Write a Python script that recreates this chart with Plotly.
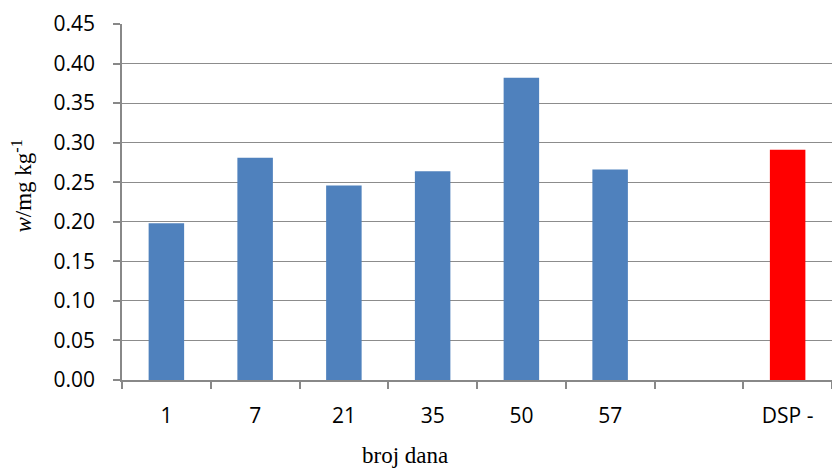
import plotly.graph_objects as go

categories = ["1", "7", "21", "35", "50", "57", " ", "DSP -"]
values = [0.198, 0.281, 0.246, 0.264, 0.382, 0.266, None, 0.291]
colors = ["#4F81BD"] * 7 + ["#FF0000"]
y_ticks = [0.00, 0.05, 0.10, 0.15, 0.20, 0.25, 0.30, 0.35, 0.40, 0.45]
y_tick_labels = [f"{v:.2f}" for v in y_ticks]

sans = "Open Sans, Liberation Sans, sans-serif"
serif = "Liberation Serif, Times New Roman, serif"

fig = go.Figure()
fig.add_trace(go.Bar(
    x=categories, y=values,
    marker=dict(color=colors, line=dict(width=0)),
    width=0.4,
))

fig.update_layout(
    width=832, height=468,
    margin=dict(l=122, r=0, t=24, b=88),
    paper_bgcolor="white", plot_bgcolor="white",
    showlegend=False,
    font=dict(family=sans, size=21, color="black"),
)
fig.update_xaxes(
    type="category",
    tickson="boundaries",
    ticks="outside", ticklen=7, tickcolor="#888888", tickwidth=1.5,
    showline=True, linecolor="#888888", linewidth=1.5,
    showgrid=False,
    ticklabelstandoff=16,
    tickfont=dict(family=sans, size=21, color="black"),
)
fig.update_yaxes(
    range=[0, 0.45],
    tickvals=y_ticks, ticktext=y_tick_labels,
    ticks="outside", ticklen=7, tickcolor="#888888", tickwidth=1.5,
    showline=True, linecolor="#888888", linewidth=1.5,
    showgrid=True, gridcolor="#8C8C8C", gridwidth=1.2,
    zeroline=False,
    ticklabelstandoff=14,
    tickfont=dict(family=sans, size=21, color="black"),
)

fig.add_annotation(
    text="<i>w</i>/mg kg<sup>-1</sup>",
    xref="paper", yref="paper", x=-0.14, y=0.545,
    xanchor="center", yanchor="middle",
    textangle=-90, showarrow=False,
    font=dict(family=serif, size=23, color="black"),
)
fig.add_annotation(
    text="broj dana",
    xref="paper", yref="paper", x=0.399, y=-0.212,
    xanchor="center", yanchor="middle",
    showarrow=False,
    font=dict(family=serif, size=23, color="black"),
)

fig.write_html("out.html", config={"displayModeBar": False},
               post_script="document.body.style.margin='0';")
